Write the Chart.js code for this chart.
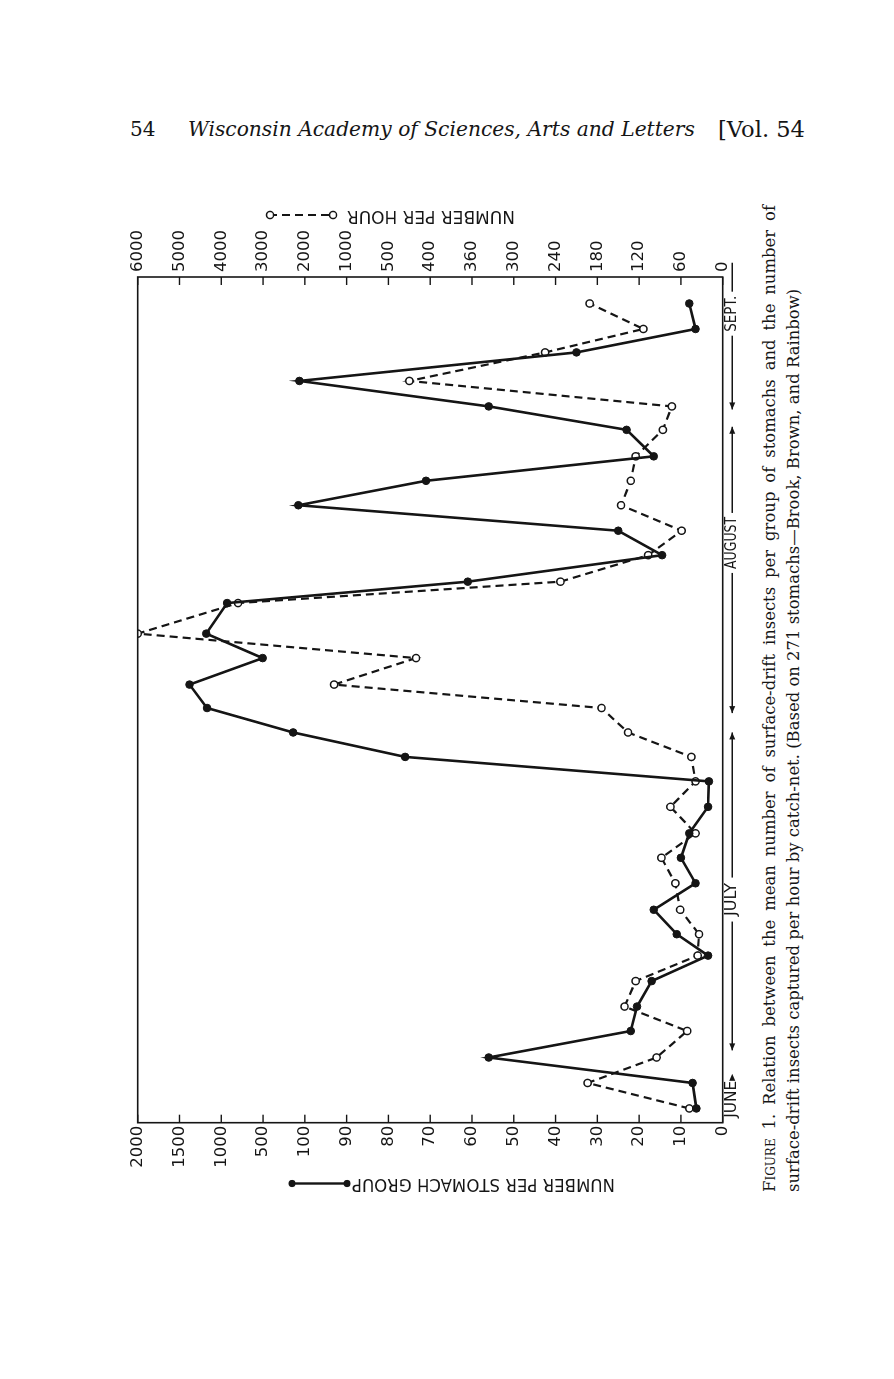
<!DOCTYPE html>
<html>
<head>
<meta charset="utf-8">
<script src="https://cdn.jsdelivr.net/npm/chart.js@4.4.0/dist/chart.umd.min.js"></script>
<style>
  html, body { margin: 0; padding: 0; background: #fff; }
  body { width: 894px; height: 1379px; position: relative; overflow: hidden; font-family: "DejaVu Serif", serif; color: #151515; }
  .hdr { position: absolute; top: 116px; font-size: 20px; line-height: 26px; white-space: nowrap; }
  #rot { position: absolute; left: -70px; top: 330px; width: 1050px; height: 750px; transform: rotate(-90deg); }
  #c { position: absolute; left: 0; top: 0; }
  .cap { position: absolute; left: 38px; font-size: 15.5px; line-height: 20px; }
  #cap1 { top: 680px; width: 987px; text-align: justify; text-align-last: justify; white-space: nowrap; }
  #cap2 { top: 704px; white-space: nowrap; }
  .sc { font-variant: small-caps; }
</style>
</head>
<body>
<div class="hdr" style="left:130px">54</div>
<div class="hdr" id="title" style="left:188px"><i>Wisconsin Academy of Sciences, Arts and Letters</i></div>
<div class="hdr" id="vol" style="left:718px">[Vol. 54</div>

<div id="rot">
  <canvas id="c" width="1050" height="680"></canvas>
  <div class="cap" id="cap1"><span class="sc">Figure</span> 1. Relation between the mean number of surface-drift insects per group of stomachs and the number of</div>
  <div class="cap" id="cap2">surface-drift insects captured per hour by catch-net. (Based on 271 stomachs—Brook, Brown, and Rainbow)</div>
</div>

<script>
const ink = "#151515";

// days counted from June 24 (sampling dates)
const sampleDays = [1.4, 3.9, 6.4, 9.0, 11.4, 13.9, 16.4, 18.5, 20.9, 23.5, 26.0, 28.4, 31.0, 33.5, 35.9, 38.3, 40.7,
  43.0, 45.6, 48.0, 51.0, 53.1, 55.7, 58.1, 60.6, 63.0, 65.4, 68.0, 70.3, 72.8, 75.6, 77.9, 80.4];

// mean number of insects per stomach group (solid line)
const stomachGroupMeans = [6.3, 7.2, 56, 22, 20.5, 17, 3.5, 11, 16.5, 6.5, 10, 8, 3.5, 3.3, 76, 212, 1170,
  1380, 505, 1180, 930, 61, 14.5, 25, 162, 71, 16.5, 23, 56, 152, 35, 6.5, 8];

// number captured per hour by catch-net (dashed line)
const catchNetPerHour = [48, 194, 95, 51, 141, 125, 36, 34, 61, 68, 88, 39, 75, 39, 45, 136, 174,
  1300, 434, 6000, 3600, 233, 107, 59, 146, 132, 125, 86, 73, 450, 255, 114, 191];

// broken scales: equal spacing between these tick values
const stomachTickValues = [0, 10, 20, 30, 40, 50, 60, 70, 80, 90, 100, 500, 1000, 1500, 2000];
const hourTickValues = [0, 60, 120, 180, 240, 300, 360, 400, 500, 1000, 2000, 3000, 4000, 5000, 6000];

// month bar along the time axis
const monthNames = ["JULY", "AUGUST", "SEPT."];
const monthStart = [7.1, 40.2, 70.0];
const monthEnd = [38.3, 68.3, 84.4];
const monthMid = [21.9, 56.9, 79.4];
const monthWidth = [36, 52, 36];

// value -> position on the broken scale
function tickPosition(v, ticks) {
  for (let i = 0; i < ticks.length - 1; i++) {
    if (v <= ticks[i + 1]) return i + (v - ticks[i]) / (ticks[i + 1] - ticks[i]);
  }
  return ticks.length - 1;
}

function fitWidth(el, target) {
  const fs = parseFloat(getComputedStyle(el).fontSize);
  const w = el.offsetWidth;
  el.style.fontSize = (fs * target / w).toFixed(2) + "px";
}

// header and caption widths
document.getElementById("title").style.display = "inline-block";
fitWidth(document.getElementById("title"), 507);
fitWidth(document.getElementById("vol"), 87);
const cap2 = document.getElementById("cap2");
cap2.style.display = "inline-block";
fitWidth(cap2, 905);
document.getElementById("cap1").style.fontSize = cap2.style.fontSize;

function arrowHead(ctx, x, y, dir) {
  ctx.beginPath();
  ctx.moveTo(x, y);
  ctx.lineTo(x - dir * 7, y - 3);
  ctx.lineTo(x - dir * 7, y + 3);
  ctx.closePath();
  ctx.fill();
}

const framePlugin = {
  id: "framePlugin",
  afterDraw(chart) {
    const ctx = chart.ctx;
    const a = chart.chartArea;
    const yS = chart.scales.yS;
    const yH = chart.scales.yH;
    const xs = chart.scales.x;
    ctx.save();
    ctx.strokeStyle = ink;
    ctx.fillStyle = ink;

    // frame
    ctx.lineWidth = 1.6;
    ctx.strokeRect(a.left, a.top, a.right - a.left, a.bottom - a.top);

    // inward ticks
    ctx.lineWidth = 1.4;
    stomachTickValues.forEach((t, i) => {
      const y = yS.getPixelForValue(i);
      ctx.beginPath(); ctx.moveTo(a.left, y); ctx.lineTo(a.left + 8, y); ctx.stroke();
    });
    hourTickValues.forEach((t, i) => {
      const y = yH.getPixelForValue(i);
      ctx.beginPath(); ctx.moveTo(a.right, y); ctx.lineTo(a.right - 8, y); ctx.stroke();
    });

    // axis titles with legend keys
    ctx.font = "17px 'DejaVu Sans'";
    ctx.textBaseline = "middle";
    ctx.textAlign = "left";

    ctx.save();
    ctx.translate(46.5, 535);
    ctx.rotate(-Math.PI / 2);
    ctx.fillText("NUMBER PER STOMACH GROUP", 0, 0, 263);
    ctx.lineWidth = 2.4;
    ctx.beginPath(); ctx.moveTo(268, 0); ctx.lineTo(323, 0); ctx.stroke();
    [268, 323].forEach(p => { ctx.beginPath(); ctx.arc(p, 0, 3.6, 0, Math.PI * 2); ctx.fill(); });
    ctx.restore();

    ctx.save();
    ctx.translate(1015, 435);
    ctx.rotate(-Math.PI / 2);
    ctx.fillText("NUMBER PER HOUR", 0, 0, 172);
    ctx.lineWidth = 2;
    ctx.setLineDash([8, 5]);
    ctx.beginPath(); ctx.moveTo(186, 0); ctx.lineTo(241, 0); ctx.stroke();
    ctx.setLineDash([]);
    ctx.lineWidth = 1.5;
    ctx.fillStyle = "#fff";
    [182, 245].forEach(p => { ctx.beginPath(); ctx.arc(p, 0, 3.6, 0, Math.PI * 2); ctx.fill(); ctx.stroke(); });
    ctx.restore();

    // month bar
    const my = a.bottom + 9.5;
    ctx.font = "16px 'DejaVu Sans'";
    ctx.textAlign = "center";
    ctx.lineWidth = 1.4;
    ctx.fillText("JUNE", xs.getPixelForValue(2.3), my, 37);
    arrowHead(ctx, xs.getPixelForValue(4.8), my, 1);
    monthNames.forEach((name, i) => {
      const x0 = xs.getPixelForValue(monthStart[i]);
      const x1 = xs.getPixelForValue(monthEnd[i]);
      const xm = xs.getPixelForValue(monthMid[i]);
      const hw = monthWidth[i] / 2 + 4;
      ctx.fillText(name, xm, my, monthWidth[i]);
      ctx.beginPath();
      ctx.moveTo(x0, my); ctx.lineTo(xm - hw, my);
      ctx.moveTo(xm + hw, my); ctx.lineTo(x1, my);
      ctx.stroke();
      arrowHead(ctx, x0, my, -1);
      if (i < monthNames.length - 1) arrowHead(ctx, x1, my, 1);
    });
    ctx.restore();
  }
};

new Chart(document.getElementById("c"), {
  type: "line",
  data: {
    datasets: [
      {
        label: "Number per stomach group",
        data: sampleDays.map((d, i) => ({ x: d, y: tickPosition(stomachGroupMeans[i], stomachTickValues) })),
        yAxisID: "yS",
        borderColor: ink,
        borderWidth: 2.6,
        pointRadius: 3.8,
        pointBackgroundColor: ink,
        pointBorderColor: ink,
        pointBorderWidth: 1,
        tension: 0
      },
      {
        label: "Number per hour",
        data: sampleDays.map((d, i) => ({ x: d, y: tickPosition(catchNetPerHour[i], hourTickValues) })),
        yAxisID: "yH",
        borderColor: ink,
        borderWidth: 2.2,
        borderDash: [8, 5],
        pointRadius: 3.6,
        pointBackgroundColor: "#fff",
        pointBorderColor: ink,
        pointBorderWidth: 1.5,
        tension: 0
      }
    ]
  },
  options: {
    responsive: false,
    animation: false,
    devicePixelRatio: 1,
    layout: { padding: { left: 0, right: 0, top: 57.7, bottom: 37.3 } },
    plugins: { legend: { display: false }, tooltip: { enabled: false } },
    scales: {
      x: { type: "linear", min: 0, max: 83, display: false },
      yS: {
        position: "left",
        min: 0, max: 14,
        grid: { display: false, drawTicks: false },
        border: { display: false },
        ticks: {
          stepSize: 1, autoSkip: false, padding: 3, color: ink,
          font: { family: "DejaVu Sans", size: 16.5 },
          callback: v => stomachTickValues[v]
        },
        afterFit: s => { s.width = 107.3; }
      },
      yH: {
        position: "right",
        min: 0, max: 14,
        grid: { display: false, drawTicks: false },
        border: { display: false },
        ticks: {
          stepSize: 1, autoSkip: false, padding: 5, color: ink,
          font: { family: "DejaVu Sans", size: 16.5 },
          callback: v => hourTickValues[v]
        },
        afterFit: s => { s.width = 97; }
      }
    }
  },
  plugins: [framePlugin]
});
</script>
</body>
</html>
